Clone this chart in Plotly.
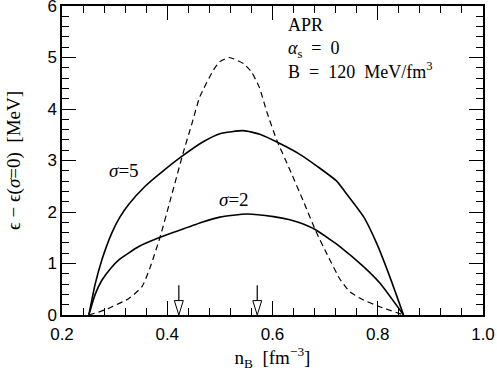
import plotly.graph_objects as go

# sigma = 5 curve
x_s5 = [0.251, 0.263, 0.276, 0.295, 0.310, 0.327, 0.358, 0.390, 0.425, 0.466, 0.500,
        0.545, 0.576, 0.614, 0.652, 0.690, 0.722, 0.735, 0.773, 0.798, 0.823, 0.849]
y_s5 = [0.0, 0.60, 1.08, 1.60, 1.90, 2.15, 2.50, 2.78, 3.06, 3.35, 3.52,
        3.58, 3.51, 3.33, 3.12, 2.85, 2.60, 2.43, 1.91, 1.39, 0.74, 0.0]

# sigma = 2 curve
x_s2 = [0.251, 0.263, 0.276, 0.292, 0.308, 0.346, 0.384, 0.422, 0.466, 0.500,
        0.551, 0.602, 0.633, 0.652, 0.681, 0.709, 0.728, 0.773, 0.804, 0.849]
y_s2 = [0.0, 0.40, 0.68, 0.90, 1.07, 1.33, 1.50, 1.64, 1.80, 1.90,
        1.96, 1.91, 1.85, 1.79, 1.66, 1.47, 1.33, 0.94, 0.62, 0.0]

# dashed curve
x_d = [0.251, 0.282, 0.327, 0.352, 0.368, 0.386, 0.405, 0.430, 0.447, 0.462,
       0.488, 0.500, 0.518, 0.545, 0.560, 0.575, 0.589, 0.608, 0.633, 0.659, 0.681,
       0.706, 0.728, 0.747, 0.773, 0.804, 0.849]
y_d = [0.0, 0.10, 0.32, 0.55, 0.94, 1.50, 2.20, 3.14, 3.72, 4.24,
       4.76, 4.92, 5.00, 4.88, 4.72, 4.42, 3.95, 3.40, 2.82, 2.20, 1.66,
       1.13, 0.70, 0.45, 0.29, 0.16, 0.0]

# arrow positions
arrow_x = [0.422, 0.571]

serif = "Liberation Serif"
sans = "Liberation Sans"

fig = go.Figure()
fig.add_trace(go.Scatter(x=x_s5, y=y_s5, mode="lines",
                         line=dict(color="black", width=1.6, shape="spline", smoothing=0.5)))
fig.add_trace(go.Scatter(x=x_s2, y=y_s2, mode="lines",
                         line=dict(color="black", width=1.6, shape="spline", smoothing=0.5)))
fig.add_trace(go.Scatter(x=x_d, y=y_d, mode="lines",
                         line=dict(color="black", width=1.2, dash="6px,4px", shape="spline", smoothing=0.5)))

# arrows: shaft + hollow head
for ax in arrow_x:
    fig.add_shape(type="line", x0=ax, x1=ax, y0=0.58, y1=0.28, line=dict(color="black", width=1.2))
    fig.add_shape(type="path",
                  path="M {a},{b} L {c},{b} L {m},0 Z".format(a=ax - 0.0085, b=0.28, c=ax + 0.0085, m=ax),
                  line=dict(color="black", width=1.0), fillcolor="white")

fig.add_annotation(x=0.318, y=2.80, text="<i>σ</i>=5", showarrow=False,
                   font=dict(family=serif, size=19, color="black"))
fig.add_annotation(x=0.527, y=2.25, text="<i>σ</i>=2", showarrow=False,
                   font=dict(family=serif, size=19, color="black"))
fig.add_annotation(x=0.626, y=5.86, xanchor="left", yanchor="top", align="left",
                   text="APR<br><i>α</i><sub>s</sub>  =  0<br>B  =  120  MeV/fm<sup>3</sup>",
                   showarrow=False, font=dict(family=serif, size=18, color="black"))

axis_common = dict(
    showline=True, linecolor="black", linewidth=1.5, mirror="allticks",
    ticks="inside", tickcolor="black", tickwidth=1.2, ticklen=14,
    showgrid=False, zeroline=False, automargin=False, ticklabeloverflow="allow",
    tickfont=dict(family=sans, size=17, color="black"),
)

fig.update_xaxes(range=[0.2, 1.0], tickvals=[0.2, 0.4, 0.6, 0.8, 1.0],
                 ticktext=["0.2", "0.4", "0.6", "0.8", "1.0"], ticklabelstandoff=3,
                 minor=dict(dtick=0.04, ticks="inside", ticklen=7, tickcolor="black", tickwidth=1),
                 title=dict(text="n<sub>B</sub>  [fm<sup>−3</sup>]",
                            font=dict(family=serif, size=19, color="black"), standoff=6),
                 **axis_common)
fig.update_yaxes(range=[0, 6], dtick=1,
                 minor=dict(dtick=0.2, ticks="inside", ticklen=7, tickcolor="black", tickwidth=1),
                 title=dict(text="ϵ − ϵ(<i>σ</i>=0)  [MeV]",
                            font=dict(family=serif, size=19, color="black"), standoff=22),
                 **axis_common)

fig.update_layout(width=497, height=371, showlegend=False,
                  margin=dict(l=62, r=14, t=6, b=56),
                  plot_bgcolor="white", paper_bgcolor="white")

# drop the default page margin so the figure sits at the window's corner
fig.write_html("out.html", config={"displayModeBar": False},
               post_script="document.body.style.margin='0';")
